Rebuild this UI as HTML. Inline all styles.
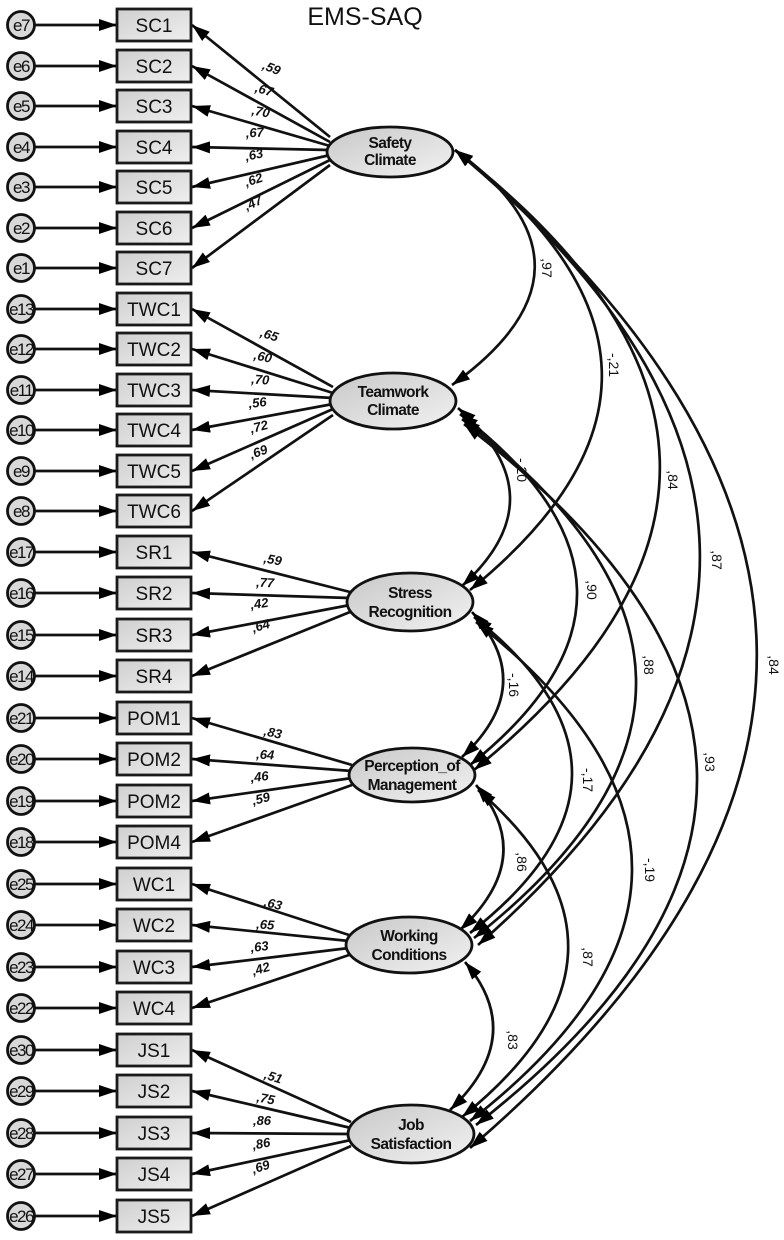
<!DOCTYPE html>
<html><head><meta charset="utf-8"><style>
html,body{margin:0;padding:0;background:#fff;}
svg{display:block;font-family:"Liberation Sans",Arial,sans-serif;}
.bx{fill:url(#g);stroke:#1a1a1a;stroke-width:2.8}
.bt{font-size:19px;text-anchor:middle;fill:#111}
.ec{fill:#d8d8d8;stroke:#111;stroke-width:2.8}
.et{font-size:17px;text-anchor:middle;fill:#111;letter-spacing:-1.5px}
.ln{stroke:#111;stroke-width:2.7;fill:none}
.ll{font-size:13px;font-weight:bold;font-style:italic;fill:#111;text-anchor:middle}
.lat{fill:url(#g2);stroke:#111;stroke-width:2.8}
.lt{font-size:15.5px;font-weight:bold;text-anchor:middle;fill:#111;letter-spacing:-0.6px}
.cl{font-size:14px;fill:#111;text-anchor:middle}
</style></head><body>
<svg width="784" height="1240" viewBox="0 0 784 1240" xmlns="http://www.w3.org/2000/svg">
<defs>
<linearGradient id="g" x1="0" y1="0" x2="1" y2="1"><stop offset="0" stop-color="#cfcfcf"/><stop offset="1" stop-color="#efefef"/></linearGradient>
<linearGradient id="g2" x1="0" y1="0" x2="1" y2="1"><stop offset="0" stop-color="#c8c8c8"/><stop offset="1" stop-color="#f2f2f2"/></linearGradient>
<marker id="a" markerWidth="18" markerHeight="12" refX="18" refY="6" orient="auto-start-reverse" markerUnits="userSpaceOnUse"><path d="M0,0 L18,6 L0,12z" fill="#000"/></marker>
</defs>

<text x="365" y="25" font-size="25" text-anchor="middle" fill="#111">EMS-SAQ</text>

<g class="ln" marker-start="url(#a)" marker-end="url(#a)">
<path d="M455,150 Q616,267 452,385"/>
<path d="M455,150 Q741,370 470,590"/>
<path d="M455,150 Q855,460 474,770"/>
<path d="M455,150 Q933,547 478,945"/>
<path d="M455,150 Q1051,649 470,1148"/>
<path d="M458,408 Q560,497 462,586"/>
<path d="M460,414 Q689,590 470,765"/>
<path d="M462,419 Q804,678 474,938"/>
<path d="M464,424 Q924,775 476,1125"/>
<path d="M472,612 Q539,685 462,757"/>
<path d="M474,617 Q672,775 470,933"/>
<path d="M476,622 Q791,871 470,1121"/>
<path d="M476,785 Q538,857 460,930"/>
<path d="M478,790 Q666,953 462,1117"/>
<path d="M465,962 Q528,1036 450,1110"/>
</g>
<g class="cl">
<text transform="translate(546,268) rotate(90)" dy="4">,97</text>
<text transform="translate(613,365) rotate(90)" dy="4">-,21</text>
<text transform="translate(672,480) rotate(90)" dy="4">,84</text>
<text transform="translate(716,560) rotate(90)" dy="4">,87</text>
<text transform="translate(773,665) rotate(90)" dy="4">,84</text>
<text transform="translate(521,470) rotate(90)" dy="4">-,20</text>
<text transform="translate(591,590) rotate(90)" dy="4">,90</text>
<text transform="translate(648,665) rotate(90)" dy="4">,88</text>
<text transform="translate(709,762) rotate(90)" dy="4">,93</text>
<text transform="translate(513,685) rotate(90)" dy="4">-,16</text>
<text transform="translate(587,780) rotate(90)" dy="4">-,17</text>
<text transform="translate(649,870) rotate(90)" dy="4">-,19</text>
<text transform="translate(521,862) rotate(90)" dy="4">,86</text>
<text transform="translate(587,957) rotate(90)" dy="4">,87</text>
<text transform="translate(512,1040) rotate(90)" dy="4">,83</text>
</g>

<g class="ln" marker-end="url(#a)">
<path d="M330,137 L192,25"/><path d="M330,142 L192,66"/><path d="M330,146 L192,106"/><path d="M330,150 L192,147"/><path d="M330,155 L192,187"/><path d="M330,160 L192,228"/><path d="M330,165 L192,268"/>
<path d="M333,387 L192,309"/><path d="M333,393 L192,349"/><path d="M333,398 L192,390"/><path d="M333,404 L192,430"/><path d="M333,409 L192,471"/><path d="M333,415 L192,511"/>
<path d="M350,592 L192,552"/><path d="M350,598 L192,593"/><path d="M350,605 L192,635"/><path d="M350,612 L192,676"/>
<path d="M352,765 L192,718"/><path d="M352,771 L192,759"/><path d="M352,778 L192,801"/><path d="M352,785 L192,842"/>
<path d="M349,935 L192,884"/><path d="M349,941 L192,925"/><path d="M349,948 L192,967"/><path d="M349,955 L192,1008"/>
<path d="M351,1122 L192,1050"/><path d="M351,1128 L192,1091"/><path d="M351,1134 L192,1133"/><path d="M351,1140 L192,1174"/><path d="M351,1146 L192,1216"/>
</g>
<g class="ll">
<text transform="translate(270,72) rotate(22)">,59</text>
<text transform="translate(263,94) rotate(16)">,67</text>
<text transform="translate(260,116) rotate(10)">,70</text>
<text transform="translate(255,137) rotate(-3)">,67</text>
<text transform="translate(255,159) rotate(-12)">,63</text>
<text transform="translate(255,184) rotate(-18)">,62</text>
<text transform="translate(255,207) rotate(-24)">,47</text>
<text transform="translate(268,339) rotate(18)">,65</text>
<text transform="translate(262,361) rotate(12)">,60</text>
<text transform="translate(260,384) rotate(4)">,70</text>
<text transform="translate(258,407) rotate(-6)">,56</text>
<text transform="translate(260,431) rotate(-14)">,72</text>
<text transform="translate(260,456) rotate(-20)">,69</text>
<text transform="translate(272,564) rotate(10)">,59</text>
<text transform="translate(265,587) rotate(2)">,77</text>
<text transform="translate(260,608) rotate(-8)">,42</text>
<text transform="translate(262,630) rotate(-16)">,64</text>
<text transform="translate(272,737) rotate(12)">,83</text>
<text transform="translate(265,759) rotate(3)">,64</text>
<text transform="translate(260,781) rotate(-6)">,46</text>
<text transform="translate(262,803) rotate(-14)">,59</text>
<text transform="translate(272,908) rotate(14)">,63</text>
<text transform="translate(265,929) rotate(4)">,65</text>
<text transform="translate(260,951) rotate(-6)">,63</text>
<text transform="translate(262,973) rotate(-16)">,42</text>
<text transform="translate(272,1081) rotate(18)">,51</text>
<text transform="translate(265,1103) rotate(10)">,75</text>
<text transform="translate(262,1125) rotate(0)">,86</text>
<text transform="translate(262,1148) rotate(-10)">,86</text>
<text transform="translate(262,1171) rotate(-18)">,69</text>
</g>

<g class="ln" marker-end="url(#a)">
<path d="M35,25 L117,25"/><path d="M35,66 L117,66"/><path d="M35,106 L117,106"/><path d="M35,147 L117,147"/><path d="M35,187 L117,187"/><path d="M35,228 L117,228"/><path d="M35,268 L117,268"/>
<path d="M35,309 L117,309"/><path d="M35,349 L117,349"/><path d="M35,390 L117,390"/><path d="M35,430 L117,430"/><path d="M35,471 L117,471"/><path d="M35,511 L117,511"/>
<path d="M35,552 L117,552"/><path d="M35,593 L117,593"/><path d="M35,635 L117,635"/><path d="M35,676 L117,676"/>
<path d="M35,718 L117,718"/><path d="M35,759 L117,759"/><path d="M35,801 L117,801"/><path d="M35,842 L117,842"/>
<path d="M35,884 L117,884"/><path d="M35,925 L117,925"/><path d="M35,967 L117,967"/><path d="M35,1008 L117,1008"/>
<path d="M35,1050 L117,1050"/><path d="M35,1091 L117,1091"/><path d="M35,1133 L117,1133"/><path d="M35,1174 L117,1174"/><path d="M35,1216 L117,1216"/>
</g>

<g>
<circle class="ec" cx="21" cy="25" r="13.5"/><circle class="ec" cx="21" cy="66" r="13.5"/><circle class="ec" cx="21" cy="106" r="13.5"/><circle class="ec" cx="21" cy="147" r="13.5"/><circle class="ec" cx="21" cy="187" r="13.5"/><circle class="ec" cx="21" cy="228" r="13.5"/><circle class="ec" cx="21" cy="268" r="13.5"/>
<circle class="ec" cx="21" cy="309" r="13.5"/><circle class="ec" cx="21" cy="349" r="13.5"/><circle class="ec" cx="21" cy="390" r="13.5"/><circle class="ec" cx="21" cy="430" r="13.5"/><circle class="ec" cx="21" cy="471" r="13.5"/><circle class="ec" cx="21" cy="511" r="13.5"/>
<circle class="ec" cx="21" cy="552" r="13.5"/><circle class="ec" cx="21" cy="593" r="13.5"/><circle class="ec" cx="21" cy="635" r="13.5"/><circle class="ec" cx="21" cy="676" r="13.5"/>
<circle class="ec" cx="21" cy="718" r="13.5"/><circle class="ec" cx="21" cy="759" r="13.5"/><circle class="ec" cx="21" cy="801" r="13.5"/><circle class="ec" cx="21" cy="842" r="13.5"/>
<circle class="ec" cx="21" cy="884" r="13.5"/><circle class="ec" cx="21" cy="925" r="13.5"/><circle class="ec" cx="21" cy="967" r="13.5"/><circle class="ec" cx="21" cy="1008" r="13.5"/>
<circle class="ec" cx="21" cy="1050" r="13.5"/><circle class="ec" cx="21" cy="1091" r="13.5"/><circle class="ec" cx="21" cy="1133" r="13.5"/><circle class="ec" cx="21" cy="1174" r="13.5"/><circle class="ec" cx="21" cy="1216" r="13.5"/>
</g>
<g class="et">
<text x="21" y="31">e7</text><text x="21" y="72">e6</text><text x="21" y="112">e5</text><text x="21" y="153">e4</text><text x="21" y="193">e3</text><text x="21" y="234">e2</text><text x="21" y="274">e1</text>
<text x="21" y="315">e13</text><text x="21" y="355">e12</text><text x="21" y="396">e11</text><text x="21" y="436">e10</text><text x="21" y="477">e9</text><text x="21" y="517">e8</text>
<text x="21" y="558">e17</text><text x="21" y="599">e16</text><text x="21" y="641">e15</text><text x="21" y="682">e14</text>
<text x="21" y="724">e21</text><text x="21" y="765">e20</text><text x="21" y="807">e19</text><text x="21" y="848">e18</text>
<text x="21" y="890">e25</text><text x="21" y="931">e24</text><text x="21" y="973">e23</text><text x="21" y="1014">e22</text>
<text x="21" y="1056">e30</text><text x="21" y="1097">e29</text><text x="21" y="1139">e28</text><text x="21" y="1180">e27</text><text x="21" y="1222">e26</text>
</g>

<g>
<rect class="bx" x="117" y="9" width="74" height="32"/><rect class="bx" x="117" y="50" width="74" height="32"/><rect class="bx" x="117" y="90" width="74" height="32"/><rect class="bx" x="117" y="131" width="74" height="32"/><rect class="bx" x="117" y="171" width="74" height="32"/><rect class="bx" x="117" y="212" width="74" height="32"/><rect class="bx" x="117" y="252" width="74" height="32"/>
<rect class="bx" x="117" y="293" width="74" height="32"/><rect class="bx" x="117" y="333" width="74" height="32"/><rect class="bx" x="117" y="374" width="74" height="32"/><rect class="bx" x="117" y="414" width="74" height="32"/><rect class="bx" x="117" y="455" width="74" height="32"/><rect class="bx" x="117" y="495" width="74" height="32"/>
<rect class="bx" x="117" y="536" width="74" height="32"/><rect class="bx" x="117" y="577" width="74" height="32"/><rect class="bx" x="117" y="619" width="74" height="32"/><rect class="bx" x="117" y="660" width="74" height="32"/>
<rect class="bx" x="117" y="702" width="74" height="32"/><rect class="bx" x="117" y="743" width="74" height="32"/><rect class="bx" x="117" y="785" width="74" height="32"/><rect class="bx" x="117" y="826" width="74" height="32"/>
<rect class="bx" x="117" y="868" width="74" height="32"/><rect class="bx" x="117" y="909" width="74" height="32"/><rect class="bx" x="117" y="951" width="74" height="32"/><rect class="bx" x="117" y="992" width="74" height="32"/>
<rect class="bx" x="117" y="1034" width="74" height="32"/><rect class="bx" x="117" y="1075" width="74" height="32"/><rect class="bx" x="117" y="1117" width="74" height="32"/><rect class="bx" x="117" y="1158" width="74" height="32"/><rect class="bx" x="117" y="1200" width="74" height="32"/>
</g>
<g class="bt">
<text x="154" y="32">SC1</text><text x="154" y="73">SC2</text><text x="154" y="113">SC3</text><text x="154" y="154">SC4</text><text x="154" y="194">SC5</text><text x="154" y="235">SC6</text><text x="154" y="275">SC7</text>
<text x="154" y="316">TWC1</text><text x="154" y="356">TWC2</text><text x="154" y="397">TWC3</text><text x="154" y="437">TWC4</text><text x="154" y="478">TWC5</text><text x="154" y="518">TWC6</text>
<text x="154" y="559">SR1</text><text x="154" y="600">SR2</text><text x="154" y="642">SR3</text><text x="154" y="683">SR4</text>
<text x="154" y="725">POM1</text><text x="154" y="766">POM2</text><text x="154" y="808">POM2</text><text x="154" y="849">POM4</text>
<text x="154" y="891">WC1</text><text x="154" y="932">WC2</text><text x="154" y="974">WC3</text><text x="154" y="1015">WC4</text>
<text x="154" y="1057">JS1</text><text x="154" y="1098">JS2</text><text x="154" y="1140">JS3</text><text x="154" y="1181">JS4</text><text x="154" y="1223">JS5</text>
</g>

<ellipse class="lat" cx="390" cy="152" rx="63" ry="25"/>
<ellipse class="lat" cx="393" cy="401" rx="63" ry="28"/>
<ellipse class="lat" cx="410" cy="602" rx="63" ry="29"/>
<ellipse class="lat" cx="412" cy="775" rx="63" ry="27"/>
<ellipse class="lat" cx="409" cy="945" rx="63" ry="28"/>
<ellipse class="lat" cx="411" cy="1134" rx="63" ry="29"/>
<g class="lt">
<text x="390" y="148">Safety</text><text x="390" y="165">Climate</text>
<text x="393" y="397">Teamwork</text><text x="393" y="415">Climate</text>
<text x="410" y="598">Stress</text><text x="410" y="617">Recognition</text>
<text x="412" y="771">Perception_of</text><text x="412" y="790">Management</text>
<text x="409" y="941">Working</text><text x="409" y="960">Conditions</text>
<text x="411" y="1130">Job</text><text x="411" y="1149">Satisfaction</text>
</g>
</svg>
</body></html>
